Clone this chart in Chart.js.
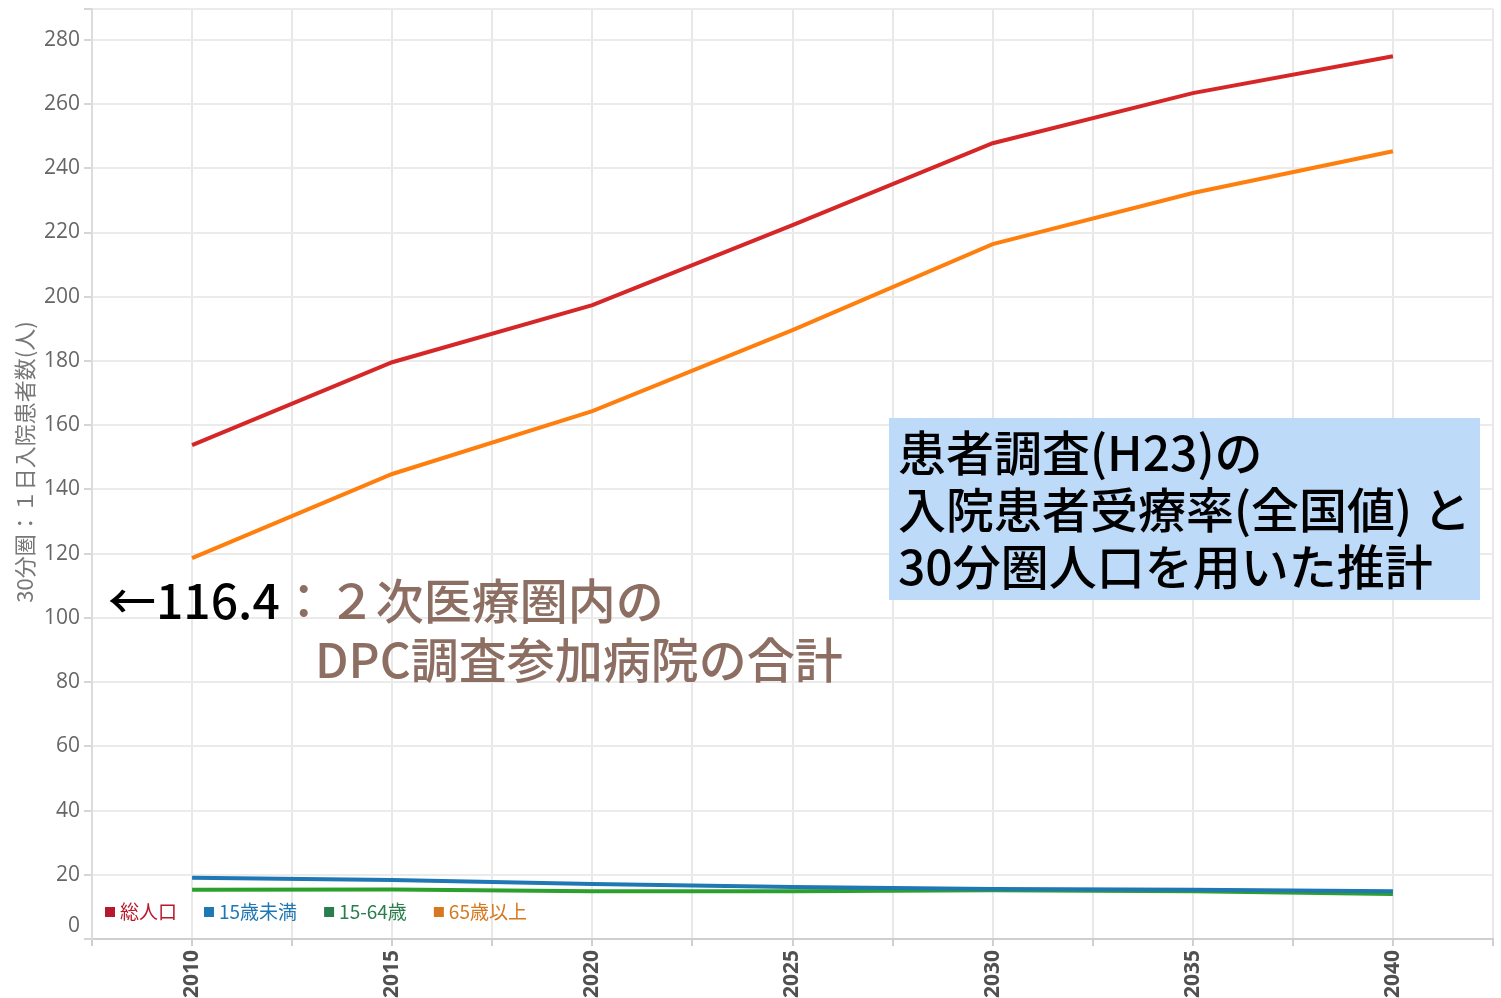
<!DOCTYPE html>
<html lang="ja">
<head>
  <meta charset="UTF-8" />
  <title>30分圏 1日入院患者数</title>
  <script src="https://cdn.jsdelivr.net/npm/chart.js"></script>
  <style>
    html, body { margin: 0; padding: 0; background: #fff; }
    .wrap { position: relative; width: 1501px; height: 998px; }
    canvas { position: absolute; left: 0; top: 0; }
    .note {
      position: absolute;
      font-family: "Noto Sans CJK JP", sans-serif;
      font-size: 48px;
      font-weight: 500;
      white-space: nowrap;
      line-height: 57px;
    }
    .box {
      left: 889px; top: 418px; width: 582px; height: 178px;
      padding: 4px 0 0 9px;
      background: #bddbf8;
      color: #000;
    }
    .brown { color: #8d6e63; }
  </style>
</head>
<body>
  <div class="wrap">
    <canvas id="c" width="1501" height="998"></canvas>
    <div class="note box">患者調査(H23)の<br>入院患者受療率(全国値) と<br>30分圏人口を用いた推計</div>
    <div class="note" style="left:108px; top:570px;"><span style="color:#000">←116.4</span><span class="brown">：２次医療圏内の</span></div>
    <div class="note brown" style="left:315px; top:629px;">DPC調査参加病院の合計</div>
  </div>

  <script>
    const years = [2010, 2015, 2020, 2025, 2030, 2035, 2040];
    const total = [153.8, 179.6, 197.4, 222.3, 247.8, 263.4, 274.9];
    const under15 = [19.1, 18.4, 17.1, 16.2, 15.6, 15.3, 14.9];
    const age15to64 = [15.3, 15.4, 14.9, 14.9, 15.2, 14.9, 14.0];
    const over65 = [118.6, 144.8, 164.4, 189.6, 216.4, 232.3, 245.3];
    const legendLabels = ['総人口', '15歳未満', '15-64歳', '65歳以上'];
    const lineColors = ['#d62728', '#1f77b4', '#2ca02c', '#ff7f0e'];
    const legendColors = ['#b8182b', '#1f77b4', '#2a7d4c', '#d6781f'];
    const yTitle = '30分圏：１日入院患者数(人)';

    const series = [total, under15, age15to64, over65];
    const pts = arr => arr.map((v, i) => ({ x: years[i], y: v }));

    // legend inside the plot (bottom-left), y title and the raised "0" label
    const extras = {
      id: 'extras',
      afterDraw(chart) {
        const ctx = chart.ctx;
        const a = chart.chartArea;
        let x = a.left + 13;
        const y = a.bottom - 27;
        ctx.save();
        ctx.font = '19px "Noto Sans CJK JP", sans-serif';
        ctx.textBaseline = 'middle';
        legendLabels.forEach((lab, i) => {
          ctx.fillStyle = legendColors[i];
          ctx.fillRect(x, y - 5, 10, 10);
          ctx.fillText(lab, x + 15, y);
          x += 15 + ctx.measureText(lab).width + 27;
        });

        ctx.fillStyle = '#666';
        ctx.font = '21px "Open Sans", sans-serif';
        ctx.textAlign = 'right';
        ctx.fillText('0', a.left - 12, a.bottom - 13);

        ctx.translate(25, 462);
        ctx.rotate(-Math.PI / 2);
        ctx.textAlign = 'center';
        ctx.fillStyle = '#777';
        ctx.font = '22px "Noto Sans CJK JP", sans-serif';
        ctx.fillText(yTitle, 0, 0);
        ctx.restore();
      }
    };

    new Chart(document.getElementById('c'), {
      type: 'line',
      data: {
        datasets: series.map((s, i) => ({
          label: legendLabels[i],
          data: pts(s),
          borderColor: lineColors[i],
          backgroundColor: lineColors[i],
          borderWidth: 4,
          pointRadius: 0,
          tension: 0
        }))
      },
      options: {
        responsive: false,
        devicePixelRatio: 1,
        animation: false,
        layout: { padding: { top: 9, right: 8, left: 0, bottom: 0 } },
        plugins: { legend: { display: false }, tooltip: { enabled: false } },
        scales: {
          x: {
            type: 'linear',
            min: 2007.5,
            max: 2042.5,
            afterFit: s => { s.height = 59; s.paddingLeft = 0; s.paddingRight = 0; },
            grid: { color: '#e8e8e8', lineWidth: 2, tickLength: 7, tickColor: '#cfcfcf' },
            border: { color: '#cfcfcf', width: 2 },
            ticks: {
              stepSize: 2.5,
              autoSkip: false,
              minRotation: 90,
              maxRotation: 90,
              padding: 4,
              color: '#505050',
              font: { family: '"Open Sans", sans-serif', size: 21, weight: 'bold' },
              callback: v => (v % 5 === 0 ? String(v) : '')
            }
          },
          y: {
            min: 0,
            max: 289.6,
            afterFit: s => { s.width = 92; s.paddingTop = 0; s.paddingBottom = 0; },
            grid: { color: '#ebebeb', lineWidth: 2, tickLength: 8, tickColor: '#d6d6d6' },
            border: { color: '#dcdcdc', width: 2 },
            ticks: {
              stepSize: 20,
              padding: 4,
              color: '#666',
              font: { family: '"Open Sans", sans-serif', size: 21 },
              callback: v => (v % 20 === 0 && v !== 0 ? String(v) : '')
            }
          }
        }
      },
      plugins: [extras]
    });
  </script>
</body>
</html>
